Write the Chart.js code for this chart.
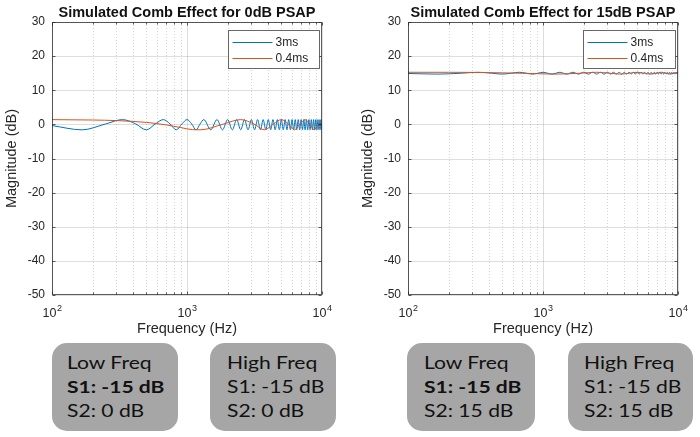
<!DOCTYPE html>
<html><head><meta charset="utf-8">
<script src="https://cdn.jsdelivr.net/npm/chart.js@4"></script>
<style>
html,body{margin:0;padding:0;background:#fff;overflow:hidden;width:700px;height:437px;}
canvas{position:absolute;top:0;}
#c1{left:0;}
#c2{left:356px;}
.box{position:absolute;background:#a6a6a6;border-radius:15px;}
.txt{position:absolute;font-family:Lato,"Open Sans",sans-serif;font-size:17px;color:#111;line-height:24px;transform-origin:0 0;transform:scaleX(1.24);white-space:nowrap;}
.txt b{font-weight:700;}
</style></head><body>
<canvas id="c1" width="350" height="340"></canvas>
<canvas id="c2" width="344" height="340"></canvas>

<div class="box" style="left:52px;top:343px;width:126px;height:88px"></div>
<div class="box" style="left:210px;top:343px;width:126px;height:88px"></div>
<div class="box" style="left:407px;top:343px;width:128px;height:88px"></div>
<div class="box" style="left:568px;top:343px;width:125px;height:88px"></div>
<div class="txt" id="t1" style="left:67px;top:351px"></div>
<div class="txt" id="t2" style="left:227px;top:351px"></div>
<div class="txt" id="t3" style="left:424px;top:351px"></div>
<div class="txt" id="t4" style="left:584px;top:351px"></div>

<script>
// ---------------- data ----------------
const chartTitles = ['Simulated Comb Effect for 0dB PSAP', 'Simulated Comb Effect for 15dB PSAP'];
const seriesNames = ['3ms', '0.4ms'];
const yTicks = [-50, -40, -30, -20, -10, 0, 10, 20, 30];
const xGridValues = [100,200,300,400,500,600,700,800,900,1000,2000,3000,4000,5000,6000,7000,8000,9000,10000];
// x tick labels: base and exponent (drawn as 10 with superscript)
const xTickValues = [100, 1000, 10000];
const xTickExponents = ['2', '3', '4'];

// 3 ms delay: frequencies of read points (Hz)
const freq3ms = [100,167,250,333,417,500,583,667,750,833,917,1000,1083,1167,1250,1333,
  1500,1667,1833,2000,2167,2333,2500,2667,2833,3000,3167,3333,3500,3667,3833,4000,4167,4333,
  4500,4667,4833,5000,5167,5333,5500,5667,5833,6000,6167,6333,6500,6667,6833,7000,7167,7333,
  7500,7667,7833,8000,8167,8333,8500,8667,8833,9000,9167,9333,9500,9667,9833,10000];
// 0dB PSAP, 3ms (dB)
const mag3ms_0dB = [-0.35,-1.6,0.13,1.4,0.13,-1.6,0.13,1.4,0.13,-1.6,0.13,1.4,0.13,-1.6,0.13,1.4,
  -1.6,1.4,-1.6,1.4,-1.6,1.4,-1.6,1.4,-1.6,1.4,-1.6,1.4,-1.6,1.4,-1.6,1.4,-1.6,1.4,
  -1.6,1.4,-1.6,1.4,-1.6,1.4,-1.6,1.4,-1.6,1.4,-1.6,1.4,-1.6,1.4,-1.6,1.4,-1.6,1.4,
  -1.6,1.4,-1.6,1.4,-1.6,1.4,-1.6,1.4,-1.6,1.4,-1.6,1.4,-1.6,1.4,-1.6,1.4];
// 15dB PSAP, 3ms (dB)
const mag3ms_15dB = [14.92,14.73,15.0,15.27,15.0,14.73,15.0,15.27,15.0,14.73,15.0,15.27,15.0,14.73,15.0,15.27,
  14.73,15.27,14.73,15.27,14.73,15.27,14.73,15.27,14.73,15.27,14.73,15.27,14.73,15.27,14.73,15.27,14.73,15.27,
  14.73,15.27,14.73,15.27,14.73,15.27,14.73,15.27,14.73,15.27,14.73,15.27,14.73,15.27,14.73,15.27,14.73,15.27,
  14.73,15.27,14.73,15.27,14.73,15.27,14.73,15.27,14.73,15.27,14.73,15.27,14.73,15.27,14.73,15.27];

// 0.4 ms delay
const freq04ms = [100,200,300,500,700,900,1100,1250,1875,2500,3125,3750,4375,5000,5625,6250,6875,7500,8125,8750,9375,10000];
const mag04ms_0dB = [1.39,1.28,1.11,0.58,-0.16,-0.94,-1.55,-1.6,0.13,1.4,0.13,-1.6,0.13,1.4,0.13,-1.6,0.13,1.4,0.13,-1.6,0.13,1.4];
const mag04ms_15dB = [15.27,15.26,15.23,15.1,14.98,14.85,14.76,14.73,15.0,15.27,15.0,14.73,15.0,15.27,15.0,14.73,15.0,15.27,15.0,14.73,15.0,15.27];

const boxTexts = [
  ['Low Freq', '<b>S1: -15 dB</b>', 'S2: 0 dB'],
  ['High Freq', 'S1: -15 dB', 'S2: 0 dB'],
  ['Low Freq', '<b>S1: -15 dB</b>', 'S2: 15 dB'],
  ['High Freq', 'S1: -15 dB', 'S2: 15 dB']
];
// --------------------------------------

boxTexts.forEach((lines, i) => {
  document.getElementById('t' + (i + 1)).innerHTML = lines.map(l => '<div>' + l + '</div>').join('');
});

const BLUE = '#0072BD', ORANGE = '#D95319', AX = '#262626';
const FONT = '"Liberation Sans", Arial, sans-serif';

const matlabAxes = {
  id: 'matlabAxes',
  beforeDatasetsDraw(chart) {
    const {ctx, chartArea: a, scales: {x, y}} = chart;
    ctx.save();
    ctx.lineWidth = 1;
    ctx.strokeStyle = 'rgba(0,0,0,0.13)';
    yTicks.forEach(v => {
      const py = Math.round(y.getPixelForValue(v)) + 0.5;
      ctx.beginPath(); ctx.moveTo(a.left, py); ctx.lineTo(a.right, py); ctx.stroke();
    });
    xGridValues.forEach(v => {
      const px = Math.round(x.getPixelForValue(v)) + 0.5;
      const major = xTickValues.includes(v);
      ctx.setLineDash(major ? [] : [1, 2]);
      ctx.strokeStyle = major ? 'rgba(0,0,0,0.13)' : 'rgba(0,0,0,0.16)';
      ctx.beginPath(); ctx.moveTo(px, a.top); ctx.lineTo(px, a.bottom); ctx.stroke();
    });
    ctx.restore();
  },
  afterDatasetsDraw(chart, args, opts) {
    const {ctx, chartArea: a, scales: {x, y}} = chart;
    ctx.save();
    ctx.strokeStyle = 'rgba(38,38,38,0.75)';
    ctx.lineWidth = 1;
    const L = Math.round(a.left) + 0.5, R = Math.round(a.right) - 0.5;
    const T = Math.round(a.top) + 0.5, B = Math.round(a.bottom) - 0.5;
    ctx.strokeRect(L, T, R - L, B - T);
    ctx.beginPath();
    yTicks.forEach(v => {
      const py = Math.round(y.getPixelForValue(v)) + 0.5;
      ctx.moveTo(L, py); ctx.lineTo(L + 3, py);
      ctx.moveTo(R, py); ctx.lineTo(R - 3, py);
    });
    xGridValues.forEach(v => {
      const px = Math.round(x.getPixelForValue(v)) + 0.5;
      const len = xTickValues.includes(v) ? 3 : 2;
      ctx.moveTo(px, B); ctx.lineTo(px, B - len);
      ctx.moveTo(px, T); ctx.lineTo(px, T + len);
    });
    ctx.stroke();
    // x tick labels: 10 with superscript exponent
    ctx.fillStyle = AX;
    ctx.textBaseline = 'alphabetic';
    ctx.textAlign = 'left';
    xTickValues.forEach((v, i) => {
      const px = x.getPixelForValue(v);
      ctx.font = '12.5px ' + FONT;
      const wb = ctx.measureText('10').width;
      ctx.font = '9px ' + FONT;
      const we = ctx.measureText(xTickExponents[i]).width;
      const x0 = px - (wb + we) / 2;
      ctx.font = '12.5px ' + FONT;
      ctx.fillText('10', x0, a.bottom + 22);
      ctx.font = '9px ' + FONT;
      ctx.fillText(xTickExponents[i], x0 + wb + 0.5, a.bottom + 16);
    });
    // legend
    const lw = opts.legendWidth, lx = Math.round(a.right) - lw - 3 + 0.5, ly = Math.round(a.top) + 8 + 0.5;
    ctx.fillStyle = '#fff';
    ctx.fillRect(lx, ly, lw, 38);
    ctx.strokeStyle = 'rgba(38,38,38,0.7)';
    ctx.strokeRect(lx, ly, lw, 38);
    ctx.font = '12px ' + FONT;
    ctx.textBaseline = 'middle';
    chart.data.datasets.slice().sort((p, q) => p.legendIndex - q.legendIndex).forEach((ds, i) => {
      const yy = ly + 12 + i * 16;
      ctx.strokeStyle = ds.borderColor;
      ctx.beginPath(); ctx.moveTo(lx + 4, yy); ctx.lineTo(lx + 44, yy); ctx.stroke();
      ctx.fillStyle = AX;
      ctx.fillText(ds.label, lx + 47, yy);
    });
    // title
    ctx.font = 'bold 14.5px ' + FONT;
    ctx.textAlign = 'center';
    ctx.textBaseline = 'alphabetic';
    ctx.fillStyle = '#111';
    ctx.fillText(opts.title, (a.left + a.right) / 2, 17);
    ctx.restore();
  }
};

function makeChart(id, title, blue, orange, rightPad, legendWidth) {
  return new Chart(document.getElementById(id), {
    type: 'line',
    data: {
      datasets: [
        {label: seriesNames[1], legendIndex: 1, order: 0, data: freq04ms.map((f, i) => ({x: f, y: orange[i]})),
         borderColor: ORANGE, borderWidth: 1, pointRadius: 0, cubicInterpolationMode: 'monotone', tension: 0.4},
        {label: seriesNames[0], legendIndex: 0, order: 1, data: freq3ms.map((f, i) => ({x: f, y: blue[i]})),
         borderColor: BLUE, borderWidth: 1, pointRadius: 0, cubicInterpolationMode: 'monotone', tension: 0.4}
      ]
    },
    options: {
      responsive: false, animation: false, devicePixelRatio: 1,
      layout: {padding: {left: 0, right: rightPad, top: 22, bottom: 0}},
      plugins: {legend: {display: false}, tooltip: {enabled: false},
                matlabAxes: {title: title, legendWidth: legendWidth}},
      scales: {
        x: {
          type: 'logarithmic', min: 100, max: 10000,
          afterBuildTicks: s => { s.ticks = xGridValues.map(v => ({value: v})); },
          afterFit: s => { s.height = 45; },
          grid: {display: false, drawTicks: false}, border: {display: false},
          ticks: {autoSkip: false, maxRotation: 0, padding: 10, color: AX, font: {size: 12, family: FONT},
                  callback: () => ''},
          title: {display: true, text: 'Frequency (Hz)', color: AX, font: {size: 14.5, family: FONT}, padding: {top: 0, bottom: 2}}
        },
        y: {
          min: -50, max: 30,
          afterBuildTicks: s => { s.ticks = yTicks.map(v => ({value: v})); },
          afterFit: s => { s.width = 52; },
          grid: {display: false, drawTicks: false}, border: {display: false},
          ticks: {padding: 7, color: AX, font: {size: 12, family: FONT}},
          title: {display: true, text: 'Magnitude (dB)', color: AX, font: {size: 14.5, family: FONT}, padding: {top: 3, bottom: 0}}
        }
      }
    },
    plugins: [matlabAxes]
  });
}

makeChart('c1', chartTitles[0], mag3ms_0dB, mag04ms_0dB, 28, 91);
makeChart('c2', chartTitles[1], mag3ms_15dB, mag04ms_15dB, 22, 92);
</script>
</body></html>
